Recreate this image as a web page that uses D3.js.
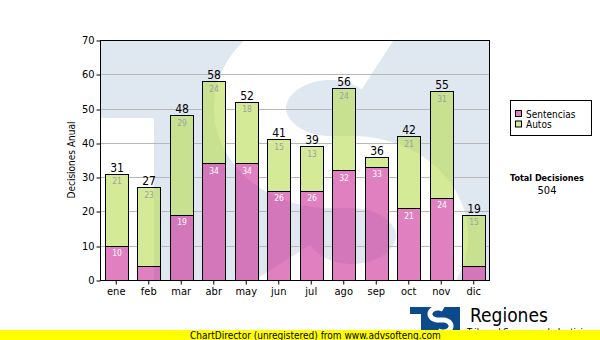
<!DOCTYPE html>
<html>
<head>
<meta charset="utf-8">
<script src="https://cdn.jsdelivr.net/npm/d3@7"></script>
<style>
  html, body { margin: 0; padding: 0; background: #fff; }
  svg { display: block; }
  text { font-family: "DejaVu Sans Condensed", "DejaVu Sans", sans-serif; }
</style>
</head>
<body>
<svg id="chart" width="600" height="340"></svg>
<script>
// Monthly decisions, split by type
const months = ["ene", "feb", "mar", "abr", "may", "jun", "jul", "ago", "sep", "oct", "nov", "dic"];
const sentencias = [10, 4, 19, 34, 34, 26, 26, 32, 33, 21, 24, 4];
const autos = [21, 23, 29, 24, 18, 15, 13, 24, 3, 21, 31, 15];
const seriesNames = ["Sentencias", "Autos"];
const yTicks = [0, 10, 20, 30, 40, 50, 60, 70];

const rows = months.map((m, i) => ({ month: m, Sentencias: sentencias[i], Autos: autos[i] }));
const totals = rows.map(r => r.Sentencias + r.Autos);
const grandTotal = d3.sum(totals);

const svg = d3.select("#chart");
const plot = { left: 100, right: 490, top: 40, bottom: 280 };

const x = d3.scaleBand().domain(months).range([plot.left, plot.right])
  .paddingInner(0.28).paddingOuter(0.14);
const y = d3.scaleLinear().domain([0, 70]).range([plot.bottom, plot.top]);
const color = d3.scaleOrdinal().domain(seriesNames).range(["#cb2b96", "#b7dc50"]);
const fillOpacity = 0.6;
const crisp = v => Math.round(v) + 0.5;

const defs = svg.append("defs");
defs.append("clipPath").attr("id", "plotClip").append("rect")
  .attr("x", plot.left).attr("y", plot.top)
  .attr("width", plot.right - plot.left).attr("height", plot.bottom - plot.top);

// Plot background: pale "TS" emblem
const bg = svg.append("g").attr("clip-path", "url(#plotClip)");
bg.append("rect").attr("x", plot.left).attr("y", plot.top)
  .attr("width", plot.right - plot.left).attr("height", plot.bottom - plot.top)
  .attr("fill", "#dfe8f1");
bg.append("rect").attr("x", plot.left).attr("y", 118)
  .attr("width", 54).attr("height", plot.bottom - 118).attr("fill", "#fff");

function ellPt(cx, cy, rx, ry, deg) {
  const a = deg * Math.PI / 180;
  return [cx + rx * Math.cos(a), cy - ry * Math.sin(a)];
}
// S-curve: upper bowl open to the right, lower bowl open to the left
function sPath(c1, c2, rx, ry, endDeg) {
  const p = d3.path();
  let s = ellPt(c1[0], c1[1], rx, ry, 50);
  p.moveTo(s[0], s[1]);
  for (let d = 52; d <= 270; d += 2) { const q = ellPt(c1[0], c1[1], rx, ry, d); p.lineTo(q[0], q[1]); }
  for (let d = 90; d >= endDeg; d -= 2) { const q = ellPt(c2[0], c2[1], rx, ry, d); p.lineTo(q[0], q[1]); }
  return p.toString();
}
bg.append("path").attr("d", sPath([330, 108], [352, 236], 80, 64, -155))
  .attr("fill", "none").attr("stroke", "#fff").attr("stroke-width", 72);

// Grid lines, hidden behind the bars
const mask = defs.append("mask").attr("id", "gridMask");
mask.append("rect").attr("x", 0).attr("y", 0).attr("width", 600).attr("height", 340).attr("fill", "#fff");
mask.selectAll("rect.bar").data(rows).join("rect").attr("class", "bar")
  .attr("x", d => crisp(x(d.month))).attr("width", Math.round(x.bandwidth()))
  .attr("y", d => y(d.Sentencias + d.Autos)).attr("height", d => plot.bottom - y(d.Sentencias + d.Autos))
  .attr("fill", "#000");

svg.append("g").attr("mask", "url(#gridMask)")
  .selectAll("line").data(yTicks.filter(t => t > 0 && t < 70)).join("line")
  .attr("x1", plot.left).attr("x2", plot.right)
  .attr("y1", d => crisp(y(d))).attr("y2", d => crisp(y(d)))
  .attr("stroke", "#b8b8b8").attr("stroke-width", 1);

// Stacked bars
const stacked = d3.stack().keys(seriesNames)(rows);
const barW = Math.round(x.bandwidth());
const layers = svg.append("g").selectAll("g").data(stacked).join("g")
  .attr("fill", d => color(d.key)).attr("fill-opacity", fillOpacity);
layers.selectAll("rect").data(d => d).join("rect")
  .attr("x", d => crisp(x(d.data.month)))
  .attr("width", barW)
  .attr("y", d => crisp(y(d[1])))
  .attr("height", d => crisp(y(d[0])) - crisp(y(d[1])))
  .attr("stroke", "#000").attr("stroke-opacity", 1).attr("stroke-width", 1);

// Segment value labels
stacked.forEach(layer => {
  svg.append("g").selectAll("text")
    .data(layer.filter(d => y(d[0]) - y(d[1]) >= 14)).join("text")
    .attr("x", d => crisp(x(d.data.month)) + barW / 2)
    .attr("y", d => y(d[1]) + 10.5)
    .attr("text-anchor", "middle")
    .attr("font-size", 8.5)
    .attr("fill", layer.key === "Sentencias" ? "#ffffff" : "#a0a0a0")
    .text(d => d[1] - d[0]);
});

// Totals above each bar
svg.append("g").selectAll("text").data(rows).join("text")
  .attr("x", d => crisp(x(d.month)) + barW / 2)
  .attr("y", (d, i) => y(totals[i]) - 2)
  .attr("text-anchor", "middle")
  .attr("font-size", 12)
  .attr("fill", "#000")
  .text((d, i) => totals[i]);

// Plot frame
svg.append("rect").attr("x", plot.left + 0.5).attr("y", plot.top + 0.5)
  .attr("width", plot.right - plot.left - 1).attr("height", plot.bottom - plot.top)
  .attr("fill", "none").attr("stroke", "#000");

// Axes
const yAxis = svg.append("g").attr("transform", `translate(${plot.left + 0.5},0)`)
  .call(d3.axisLeft(y).tickValues(yTicks).tickSize(4).tickPadding(2));
yAxis.select(".domain").remove();
yAxis.selectAll("text").attr("font-size", 11).attr("font-family", null).attr("fill", "#000");
yAxis.selectAll("line").attr("stroke", "#000").attr("transform", d => `translate(0,${crisp(y(d)) - y(d)})`);

const xAxis = svg.append("g").attr("transform", `translate(0,${plot.bottom + 0.5})`)
  .call(d3.axisBottom(x).tickSize(4).tickPadding(3));
xAxis.select(".domain").remove();
xAxis.selectAll("text").attr("font-size", 11).attr("font-family", null).attr("fill", "#000");

svg.append("text")
  .attr("transform", "translate(75,160) rotate(-90)")
  .attr("text-anchor", "middle").attr("font-size", 10).attr("fill", "#000")
  .text("Decisiones Anual");

// Legend
const legend = svg.append("g");
legend.append("rect").attr("x", 510.5).attr("y", 100.5).attr("width", 81).attr("height", 35)
  .attr("fill", "#fff").attr("stroke", "#000");
seriesNames.forEach((name, i) => {
  const ly = 114 + i * 10.5;
  legend.append("rect").attr("x", 515.5).attr("y", ly - 3.5).attr("width", 6).attr("height", 6)
    .attr("fill", color(name)).attr("fill-opacity", fillOpacity).attr("stroke", "#000");
  legend.append("text").attr("x", 526).attr("y", ly + 3.5).attr("font-size", 10).attr("fill", "#000").text(name);
});

// Grand total
svg.append("text").attr("x", 547).attr("y", 181).attr("text-anchor", "middle")
  .attr("font-size", 9).attr("font-weight", "bold").attr("fill", "#000").text("Total Decisiones");
svg.append("text").attr("x", 547).attr("y", 194).attr("text-anchor", "middle")
  .attr("font-size", 11).attr("fill", "#000").text(grandTotal);

// Emblem and title at the bottom right
const logo = svg.append("g");
logo.append("rect").attr("x", 410).attr("y", 307).attr("width", 50).attr("height", 7).attr("fill", "#0c4a8c");
logo.append("rect").attr("x", 421).attr("y", 307).attr("width", 39).attr("height", 28).attr("fill", "#0c4a8c");
logo.append("path").attr("d", sPath([438, 314], [443, 326], 8, 6, -130))
  .attr("fill", "none").attr("stroke", "#fff").attr("stroke-width", 5);
svg.append("text").attr("x", 470).attr("y", 322).attr("font-size", 19)
  .attr("font-family", "'Liberation Sans', Arial, sans-serif").attr("fill", "#000").text("Regiones");
svg.append("text").attr("x", 467).attr("y", 335).attr("font-size", 9.5)
  .attr("font-family", "'Liberation Sans', Arial, sans-serif").attr("fill", "#000").text("Tribunal Supremo de Justicia");

// Footer strip
svg.append("rect").attr("x", 0).attr("y", 330).attr("width", 600).attr("height", 10).attr("fill", "#ffff00");
svg.append("text").attr("x", 190).attr("y", 338.5).attr("font-size", 10)
  .attr("font-family", "'Liberation Sans', Arial, sans-serif").attr("fill", "#000")
  .text("ChartDirector (unregistered) from www.advsofteng.com");
</script>
</body>
</html>
